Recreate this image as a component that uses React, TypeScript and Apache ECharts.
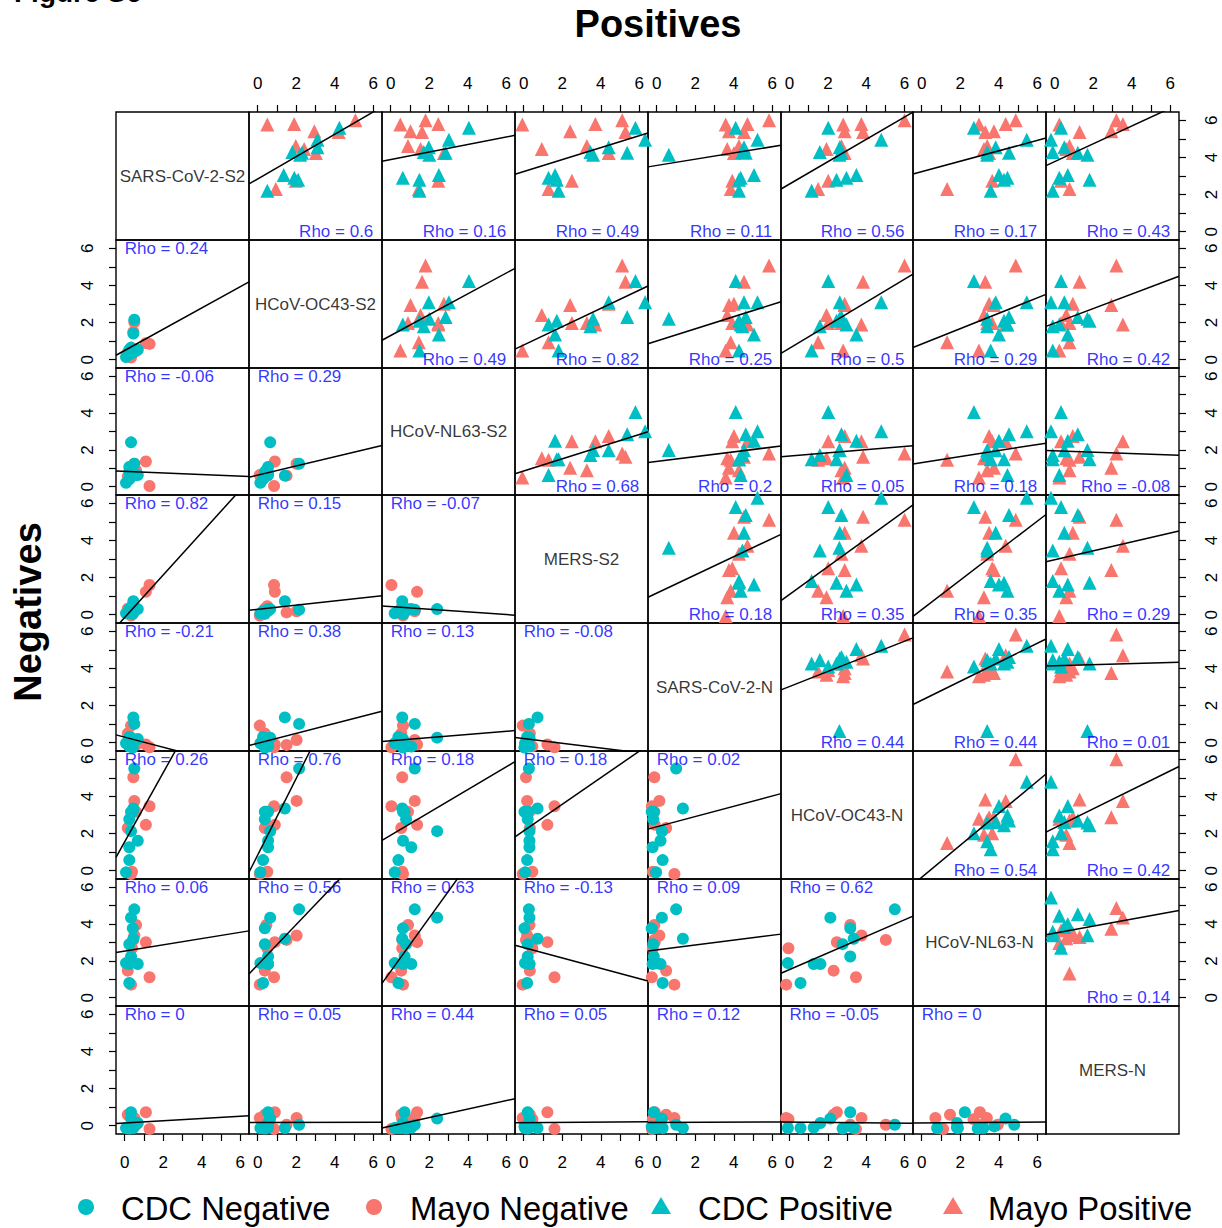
import { useEffect, useRef } from 'react';
import * as echarts from 'echarts';

// ---------------- data ----------------
const variableNames = [
  'SARS-CoV-2-S2', 'HCoV-OC43-S2', 'HCoV-NL63-S2', 'MERS-S2',
  'SARS-CoV-2-N', 'HCoV-OC43-N', 'HCoV-NL63-N', 'MERS-N',
];

// each row = one subject, values in the order of variableNames
const mayoPositive = [
  [6.0, 5.07, 1.81, 5.11, 5.83, 6.01, 4.88, 3.2],
  [5.8, 1.89, 2.47, 3.72, 4.71, 3.75, 4.36, 3.54],
  [5.77, 0.5, 0.5, -0.07, 3.58, 2.8, 2.97, 0.24],
  [5.41, 2.94, 1.03, 2.41, 3.75, 2.88, 3.75, 2.94],
  [5.37, 4.2, 1.63, 5.28, 4.53, 3.84, 3.3, 1.29],
  [4.62, 1.98, 0.9, 3.28, 4.27, 2.71, 3.4, 0.77],
  [4.45, 2.41, 1.55, 0.94, 3.66, 1.93, 3.23, 0.6],
  [4.24, 3.02, 2.76, 4.41, 4.01, 2.88, 3.5, 0.94],
  [2.75, 1.98, 2.47, 2.5, 3.92, 2.02, 3.66, 0.33],
  [2.3, 0.94, 1.46, 1.29, 3.84, 1.49, 1.32, 0.77],
];

const cdcPositive = [
  [5.6, 4.24, 4.06, 5.8, 4.1, 2.02, 2.71, 0.33],
  [4.95, 3.1, 3.02, 6.3, 5.23, 4.79, 5.45, -0.19],
  [4.55, 3.1, 1.98, 4.41, 4.53, 2.62, 3.84, 0.5],
  [4.3, 1.8, 1.72, 3.46, 4.45, 1.58, 3.4, -0.1],
  [4.25, 2.3, 2.85, 5.37, 4.62, 2.71, 4.53, 1.2],
  [4.14, 2.2, 2.0, 3.6, 0.63, 2.6, 3.4, 1.7],
  [3.06, 1.35, 2.5, 1.63, 5.05, 3.49, 4.01, 0.68],
  [2.9, 1.9, 0.63, 1.29, 4.36, 2.97, 4.45, 0.24],
  [2.8, 2.1, 1.49, 1.72, 4.27, 2.45, 4.27, 1.81],
  [2.2, 0.5, 1.49, 1.81, 4.27, 1.15, 3.58, -0.1],
];

const cdcNegative = [
  [0.5, 2.15, 1.25, 0.27, 1.01, 5.5, 4.8, 0.05],
  [0.33, 0.65, 2.41, 0.3, 0.27, 2.13, 4.35, 0.38],
  [0.42, 0.37, 0.64, 0.04, -0.26, 3.17, 3.77, -0.04],
  [0.45, 1.41, 0.6, 0.72, 1.36, 3.35, 3.2, -0.13],
  [0.24, 0.37, 0.8, 0.21, -0.18, 2.77, 2.91, -0.15],
  [0.33, 0.54, 0.72, 0.21, -0.15, 3.17, 2.24, 0.72],
  [0.68, 0.54, 0.64, 0.3, 0.2, 1.61, 1.83, 0.14],
  [0.24, 0.54, 1.07, 0.3, -0.21, 1.26, 1.83, -0.1],
  [0.07, 0.14, 0.21, 0.07, -0.03, -0.09, 1.88, -0.13],
  [0.24, 0.28, 0.4, 0.18, 0.31, 0.57, 0.8, -0.13],
];

const mayoNegative = [
  [0.59, 0.45, 0.9, 0.3, -0.12, 3.17, 3.95, 0.05],
  [0.5, 2.02, 1.25, 0.18, 0.14, 3.76, 3.38, 0.41],
  [1.1, 0.89, 1.37, 1.23, -0.1, 2.47, 3.02, 0.72],
  [0.45, 1.5, 0.6, 0.12, -0.12, 5.03, 3.14, 0.05],
  [0.38, 0.5, 0.6, 0.45, -0.2, -0.06, 2.69, 0.35],
  [0.16, 0.37, 0.55, 0.32, 0.49, 2.3, 1.47, 0.59],
  [1.29, 0.85, 0.04, 1.6, -0.25, 3.47, 1.11, -0.18],
  [0.33, 0.11, 0.64, -0.05, 0.92, -0.18, 0.71, 0.41],
];

// Rho labels, upper triangle (positives): row r, entries for columns r+1..7
const rhoPositiveRows = [
  ['0.6', '0.16', '0.49', '0.11', '0.56', '0.17', '0.43'],
  ['0.49', '0.82', '0.25', '0.5', '0.29', '0.42'],
  ['0.68', '0.2', '0.05', '0.18', '-0.08'],
  ['0.18', '0.35', '0.35', '0.29'],
  ['0.44', '0.44', '0.01'],
  ['0.54', '0.42'],
  ['0.14'],
];
// Rho labels, lower triangle (negatives): row r+1, entries for columns 0..r
const rhoNegativeRows = [
  ['0.24'],
  ['-0.06', '0.29'],
  ['0.82', '0.15', '-0.07'],
  ['-0.21', '0.38', '0.13', '-0.08'],
  ['0.26', '0.76', '0.18', '0.18', '0.02'],
  ['0.06', '0.56', '0.63', '-0.13', '0.09', '0.62'],
  ['0', '0.05', '0.44', '0.05', '0.12', '-0.05', '0'],
];

const tickValues = [0, 1, 2, 3, 4, 5, 6];
const tickLabelValues = [0, 2, 4, 6];
const legendNames = ['CDC Negative', 'Mayo Negative', 'CDC Positive', 'Mayo Positive'];

// ---------------- styling ----------------
const CYAN = '#00BFC4';
const RED = '#F8766D';
const FONT = "'Liberation Sans', Arial, Helvetica, sans-serif";
const AX_MIN = -0.45;
const AX_MAX = 6.45;
const colEdges = [116, 249, 382, 515, 648, 781, 913, 1046, 1179];
const rowEdges = [112, 240, 368, 495, 623, 751, 879, 1006, 1134];

function fitLine(points: number[][]) {
  const n = points.length;
  let mx = 0, my = 0;
  points.forEach(p => { mx += p[0]; my += p[1]; });
  mx /= n; my /= n;
  let sxy = 0, sxx = 0;
  points.forEach(p => { sxy += (p[0] - mx) * (p[1] - my); sxx += (p[0] - mx) * (p[0] - mx); });
  const b = sxx === 0 ? 0 : sxy / sxx;
  const a = my - b * mx;
  return [[AX_MIN, a + b * AX_MIN], [AX_MAX, a + b * AX_MAX]];
}

function buildOption() {
  const grid: any[] = [];
  const xAxis: any[] = [];
  const yAxis: any[] = [];
  const series: any[] = [];

  for (let i = 0; i < 8; i++) {
    for (let j = 0; j < 8; j++) {
      const k = i * 8 + j;
      grid.push({
        left: colEdges[j], top: rowEdges[i],
        width: colEdges[j + 1] - colEdges[j], height: rowEdges[i + 1] - rowEdges[i],
        show: true, borderColor: '#000', borderWidth: 1.4, backgroundColor: 'transparent',
      });
      const xTop = i === 0 && j >= 1;
      const xBottom = i === 7 && j <= 6;
      const yLeft = j === 0 && i >= 1;
      const yRight = j === 7 && i <= 6;
      const tick = { show: true, length: 7, lineStyle: { color: '#000', width: 1.2 }, customValues: tickValues };
      const lab = { show: true, customValues: tickLabelValues, color: '#000', fontSize: 17, fontFamily: FONT };
      xAxis.push({
        gridIndex: k, type: 'value', min: AX_MIN, max: AX_MAX,
        show: xTop || xBottom, position: xTop ? 'top' : 'bottom',
        axisLine: { show: false, onZero: false }, splitLine: { show: false },
        axisTick: tick, axisLabel: { ...lab, margin: 20 },
      });
      yAxis.push({
        gridIndex: k, type: 'value', min: AX_MIN, max: AX_MAX,
        show: yLeft || yRight, position: yRight ? 'right' : 'left',
        axisLine: { show: false, onZero: false }, splitLine: { show: false },
        axisTick: tick, axisLabel: { ...lab, rotate: 90, margin: yRight ? 24 : 20 },
      });

      if (i === j) {
        series.push({
          type: 'scatter', xAxisIndex: k, yAxisIndex: k, data: [[3, 3]], symbolSize: 0, silent: true,
          label: { show: true, position: 'inside', formatter: variableNames[i], color: '#000', fontSize: 17, fontFamily: FONT },
        });
        continue;
      }
      const upper = i < j;
      const groups = upper
        ? [{ d: mayoPositive, c: RED, s: 'triangle', z: 14 }, { d: cdcPositive, c: CYAN, s: 'triangle', z: 14 }]
        : [{ d: mayoNegative, c: RED, s: 'circle', z: 12 }, { d: cdcNegative, c: CYAN, s: 'circle', z: 12 }];
      const all: number[][] = [];
      groups.forEach(g => {
        const pts = g.d.map(r => [r[j], r[i]]);
        all.push(...pts);
        series.push({
          type: 'scatter', xAxisIndex: k, yAxisIndex: k, data: pts, symbol: g.s, symbolSize: g.z,
          itemStyle: { color: g.c, opacity: 1 }, clip: false, silent: true,
        });
      });
      series.push({
        type: 'line', xAxisIndex: k, yAxisIndex: k, data: fitLine(all), symbol: 'none', clip: true,
        lineStyle: { color: '#000', width: 1.5 }, silent: true,
      });
      const rho = upper ? rhoPositiveRows[i][j - i - 1] : rhoNegativeRows[i - 1][j];
      series.push({
        type: 'scatter', xAxisIndex: k, yAxisIndex: k, data: upper ? [[6, 0]] : [[0, 6]], symbolSize: 0, silent: true,
        label: {
          show: true, position: upper ? 'left' : 'right', distance: 0,
          formatter: 'Rho = ' + rho, color: '#0000FF', fontSize: 17, fontFamily: FONT,
        },
      });
    }
  }

  const legendY = 1207;
  const legendSymbolX = [86, 374, 661, 953];
  const legendTextX = [121, 410, 698, 988];
  const legendColors = [CYAN, RED, CYAN, RED];
  const graphic: any[] = [
    { type: 'text', left: 14, top: -22, style: { text: 'Figure S6', font: `bold 28px ${FONT}`, fill: '#000' } },
    { type: 'text', x: 658, y: 24, style: { text: 'Positives', font: `bold 38px ${FONT}`, fill: '#000', align: 'center', verticalAlign: 'middle' } },
    { type: 'text', x: 28, y: 612, rotation: Math.PI / 2, style: { text: 'Negatives', font: `bold 38px ${FONT}`, fill: '#000', align: 'center', verticalAlign: 'middle' } },
  ];
  legendNames.forEach((name, idx) => {
    const cx = legendSymbolX[idx];
    if (idx < 2) {
      graphic.push({ type: 'circle', shape: { cx, cy: legendY, r: 8 }, style: { fill: legendColors[idx] } });
    } else {
      graphic.push({
        type: 'polygon',
        shape: { points: [[cx, legendY - 10], [cx + 10, legendY + 7], [cx - 10, legendY + 7]] },
        style: { fill: legendColors[idx] },
      });
    }
    graphic.push({
      type: 'text', x: legendTextX[idx], y: legendY + 1,
      style: { text: name, font: `32.8px ${FONT}`, fill: '#000', align: 'left', verticalAlign: 'middle' },
    });
  });

  return { animation: false, backgroundColor: '#fff', grid, xAxis, yAxis, series, graphic };
}

export default function App() {
  const ref = useRef<HTMLDivElement>(null);
  useEffect(() => {
    if (!ref.current) return;
    const chart = echarts.init(ref.current, undefined, { renderer: 'svg' });
    chart.setOption(buildOption() as any);
    return () => chart.dispose();
  }, []);
  return <div ref={ref} style={{ position: 'absolute', left: 0, top: 0, width: 1222, height: 1228 }} />;
}
